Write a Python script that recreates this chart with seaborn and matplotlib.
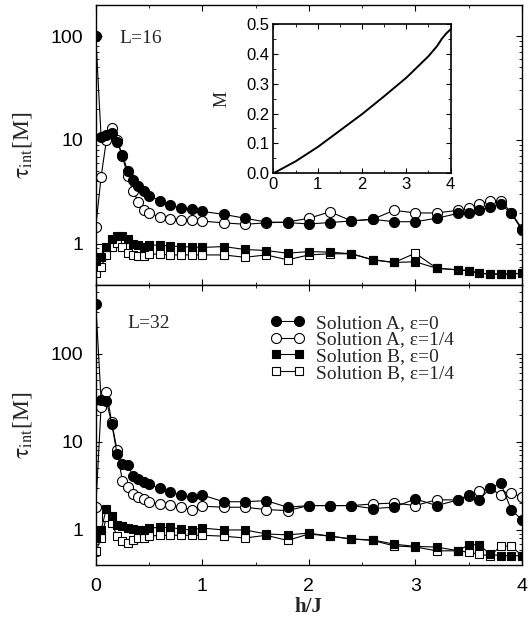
import numpy as np
import pandas as pd
import matplotlib
matplotlib.use("Agg")
import matplotlib.pyplot as plt
import seaborn as sns
from matplotlib.ticker import LogLocator, NullFormatter, FixedLocator, FixedFormatter, MultipleLocator
from matplotlib.lines import Line2D

# ---------------- data ----------------
h = [0, 0.05, 0.1, 0.15, 0.2, 0.25, 0.3, 0.35, 0.4, 0.45, 0.5, 0.6, 0.7, 0.8, 0.9, 1.0,
     1.2, 1.4, 1.6, 1.8, 2.0, 2.2, 2.4, 2.6, 2.8, 3.0, 3.2, 3.4, 3.5, 3.6, 3.7, 3.8, 3.9, 4.0]

# L = 16
L16_A0 = [100, 10.8, 11.2, 11.8, 9.6, 7.2, 5.0, 4.1, 3.6, 3.2, 2.9, 2.6, 2.35, 2.2, 2.15, 2.05,
          1.92, 1.76, 1.62, 1.6, 1.55, 1.6, 1.66, 1.72, 1.63, 1.63, 1.76, 1.96, 2.0, 2.1, 2.27, 2.41, 1.96, 1.36]
L16_A14 = [1.45, 4.4, 10.0, 13.0, 10.0, 7.0, 4.5, 3.2, 2.55, 2.1, 2.0, 1.8, 1.74, 1.7, 1.7, 1.65,
           1.59, 1.54, 1.59, 1.62, 1.76, 2.03, 1.66, 1.72, 2.1, 1.98, 1.98, 2.1, 2.2, 2.41, 2.6, 2.6, 2.0, 1.4]
L16_B0 = [0.68, 0.75, 0.92, 1.1, 1.2, 1.2, 1.1, 1.0, 0.97, 0.94, 0.97, 0.97, 0.95, 0.94, 0.93, 0.92,
          0.94, 0.88, 0.86, 0.81, 0.84, 0.83, 0.8, 0.7, 0.66, 0.67, 0.58, 0.56, 0.55, 0.52, 0.51, 0.51, 0.51, 0.52]
L16_B14 = [0.52, 0.6, 0.78, 0.92, 1.02, 0.92, 0.82, 0.78, 0.77, 0.77, 0.8, 0.79, 0.78, 0.78, 0.78, 0.78,
           0.78, 0.74, 0.78, 0.70, 0.78, 0.8, 0.8, 0.70, 0.66, 0.81, 0.58, 0.56, 0.55, 0.52, 0.51, 0.51, 0.51, 0.52]

# L = 32
L32_A0 = [370, 30, 29, 16, 7.3, 5.6, 5.4, 4.1, 3.8, 3.5, 3.3, 2.97, 2.67, 2.49, 2.35, 2.49,
          2.09, 2.09, 2.15, 1.81, 1.89, 1.89, 1.89, 1.75, 1.81, 2.25, 1.89, 2.19, 2.49, 2.19, 2.97, 3.41, 1.7, 1.3]
L32_A14 = [1.8, 25, 37, 16.6, 8.0, 3.6, 3.05, 2.56, 2.35, 2.25, 2.06, 1.97, 1.9, 1.81, 1.7, 1.86,
           1.81, 1.81, 1.7, 1.66, 1.89, 1.89, 1.89, 1.97, 2.02, 1.89, 2.2, 2.19, 2.45, 2.79, 2.97, 2.5, 2.65, 2.35]
L32_B0 = [0.8, 1.0, 1.75, 1.45, 1.15, 1.1, 1.05, 1.02, 1.0, 1.0, 1.05, 1.07, 1.07, 1.02, 1.0, 1.05,
          1.0, 1.0, 0.9, 0.88, 0.92, 0.85, 0.79, 0.77, 0.69, 0.65, 0.64, 0.58, 0.68, 0.68, 0.53, 0.51, 0.51, 0.51]
L32_B14 = [0.57, 0.8, 1.4, 1.2, 0.85, 0.75, 0.72, 0.76, 0.8, 0.82, 0.85, 0.87, 0.87, 0.87, 0.87, 0.87,
           0.85, 0.81, 0.87, 0.76, 0.9, 0.85, 0.79, 0.76, 0.66, 0.64, 0.58, 0.58, 0.56, 0.53, 0.51, 0.65, 0.66, 0.51]

# inset: magnetization
h_M = [0, 0.5, 1.0, 1.5, 2.0, 2.5, 3.0, 3.5, 3.7, 3.8, 3.9, 4.0]
M_vals = [0, 0.040, 0.088, 0.143, 0.198, 0.258, 0.320, 0.392, 0.427, 0.450, 0.468, 0.482]

series_labels = ["Solution A, ε=0", "Solution A, ε=1/4", "Solution B, ε=0", "Solution B, ε=1/4"]
panel_labels = ["L=16", "L=32"]
x_ticks = [0, 1, 2, 3, 4]
y_ticks = [1, 10, 100]
y_tick_labels = ["1", "10", "100"]

# ---------------- style ----------------
sns.set_theme(style="ticks")
plt.rcParams.update({
    "font.family": ["Liberation Sans", "DejaVu Sans"],
    "mathtext.fontset": "stix",
    "xtick.direction": "in",
    "ytick.direction": "in",
    "xtick.top": True,
    "ytick.right": True,
    "axes.linewidth": 1.0,
    "axes.edgecolor": "black",
    "xtick.color": "black",
    "ytick.color": "black",
})

serif = ["Liberation Serif", "DejaVu Serif"]

fig = plt.figure(figsize=(5.32, 6.26), dpi=100)
ax1 = fig.add_axes([0.180, 0.5447, 0.801, 0.4473])
ax2 = fig.add_axes([0.180, 0.0974, 0.801, 0.4473])

styles = [
    dict(marker="o", markersize=7.2, markerfacecolor="black"),
    dict(marker="o", markersize=7.2, markerfacecolor="white"),
    dict(marker="s", markersize=5.8, markerfacecolor="black"),
    dict(marker="s", markersize=5.8, markerfacecolor="white"),
]

def draw_panel(ax, ys, ylim, label, lab_xy):
    order = [1, 3, 0, 2]  # open markers underneath filled ones
    for i in order:
        df = pd.DataFrame({"h": h, "tau": ys[i]})
        sns.lineplot(data=df, x="h", y="tau", ax=ax, color="black", linewidth=0.8,
                     markeredgecolor="black", markeredgewidth=0.8, legend=False,
                     zorder=3 if i % 2 == 0 else 2, **styles[i])
    ax.set_yscale("log")
    ax.set_xlim(0, 4)
    ax.set_ylim(*ylim)
    ax.yaxis.set_major_locator(FixedLocator(y_ticks))
    ax.yaxis.set_major_formatter(FixedFormatter(y_tick_labels))
    ax.yaxis.set_minor_locator(LogLocator(base=10, subs=np.arange(2, 10)))
    ax.yaxis.set_minor_formatter(NullFormatter())
    ax.xaxis.set_major_locator(FixedLocator(x_ticks))
    ax.xaxis.set_minor_locator(MultipleLocator(0.5))
    ax.tick_params(which="major", length=4, width=0.8, labelsize=14)
    ax.tick_params(axis="y", which="major", pad=9)
    ax.tick_params(axis="x", which="major", pad=9)
    ax.tick_params(which="minor", length=2.2, width=0.6)
    ax.set_xlabel("")
    ax.set_ylabel(r"$\mathrm{\tau_{int}}$[M]", family=serif, fontsize=17)
    ax.yaxis.set_label_coords(-0.145, 0.5)
    ax.text(lab_xy[0], lab_xy[1], label, transform=ax.transAxes, family=serif, fontsize=14,
            va="center", ha="left")

draw_panel(ax1, [L16_A0, L16_A14, L16_B0, L16_B14], (0.4, 200), panel_labels[0], (0.056, 0.88))
draw_panel(ax2, [L32_A0, L32_A14, L32_B0, L32_B14], (0.4, 600), panel_labels[1], (0.075, 0.864))
ax1.tick_params(axis="x", labelbottom=False)
ax2.set_xlabel("h/J", family=serif, fontsize=15, fontweight="bold", labelpad=2)

# legend
handles = []
for i in range(4):
    st = styles[i]
    handles.append(Line2D([], [], color="black", linewidth=0.8, marker=st["marker"],
                          markersize=st["markersize"], markerfacecolor=st["markerfacecolor"],
                          markeredgecolor="black", markeredgewidth=0.8))
ax2.legend(handles, series_labels, loc="upper left", bbox_to_anchor=(0.387, 0.93),
           frameon=False, numpoints=2, handlelength=1.75, handletextpad=0.6,
           labelspacing=-0.05, borderpad=0, prop={"family": serif, "size": 14})

# inset
axi = fig.add_axes([0.514, 0.7232, 0.333, 0.2385])
dfM = pd.DataFrame({"h": h_M, "M": M_vals})
sns.lineplot(data=dfM, x="h", y="M", ax=axi, color="black", linewidth=1.4, legend=False)
axi.set_xlim(0, 4)
axi.set_ylim(0, 0.5)
axi.xaxis.set_major_locator(FixedLocator(x_ticks))
axi.xaxis.set_minor_locator(MultipleLocator(0.5))
axi.yaxis.set_major_locator(MultipleLocator(0.1))
axi.yaxis.set_minor_locator(MultipleLocator(0.05))
axi.yaxis.set_major_formatter(matplotlib.ticker.FormatStrFormatter("%.1f"))
axi.tick_params(which="major", length=3.5, width=0.8, labelsize=12, pad=3)
axi.tick_params(which="minor", length=2, width=0.6)
axi.set_xlabel("")
axi.set_ylabel("M", family=serif, fontsize=13)
axi.yaxis.set_label_coords(-0.24, 0.5)
for s in axi.spines.values():
    s.set_linewidth(1.2)

fig.savefig("out.png", dpi=100)
